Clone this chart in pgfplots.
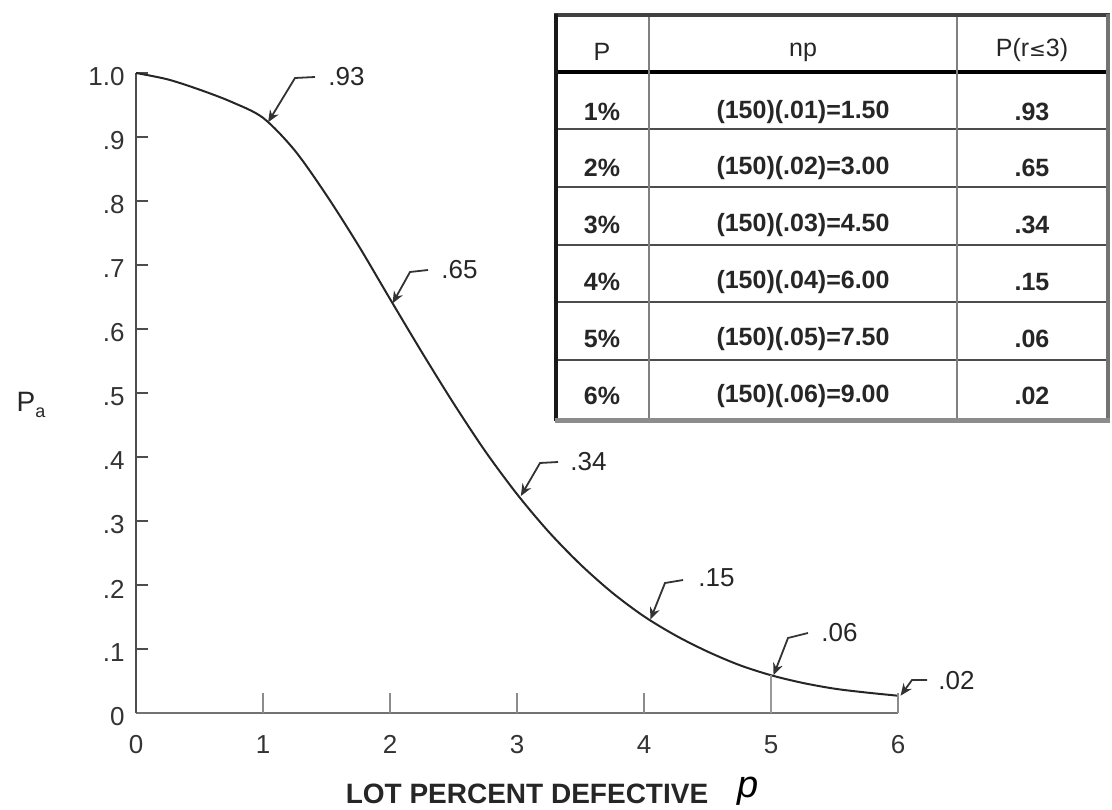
\documentclass[border=0pt]{standalone}
\usepackage{fontspec}
\setmainfont{Liberation Sans}
\newfontfamily\dejavu{DejaVu Sans}
\usepackage{pgfplots}
\pgfplotsset{compat=1.18}
\usetikzlibrary{arrows.meta}

% OC curve
\pgfplotstableread{
p     Pa
0.00  1.000
0.25  0.990
0.50  0.974
0.75  0.955
1.00  0.930
1.25  0.879
1.50  0.809
1.75  0.731
2.00  0.647
2.25  0.564
2.50  0.484
2.75  0.409
3.00  0.342
3.25  0.283
3.50  0.232
3.75  0.188
4.00  0.151
4.25  0.121
4.50  0.096
4.75  0.075
5.00  0.059
5.25  0.047
5.50  0.038
5.75  0.032
6.00  0.027
}\occurve

\newcommand\tfont{\fontsize{13}{15}\selectfont}

\begin{document}
\begin{tikzpicture}
\useasboundingbox (0,0) rectangle (556pt,404.5pt);
\begin{axis}[
    at={(68pt,48pt)}, anchor=south west,
    scale only axis, width=381pt, height=320pt,
    xmin=0, xmax=6, ymin=0, ymax=1,
    clip=false,
    axis x line*=bottom, axis y line*=left,
    x axis line style={-, draw=black!55, line width=1.2pt},
    y axis line style={-, draw=black!70, line width=1pt},
    xtick={0,1,2,3,4,5,6},
    xticklabels={0,1,2,3,4,5,6},
    xtick style={draw=none},
    ytick={0,0.1,0.2,0.3,0.4,0.5,0.6,0.7,0.8,0.9,1},
    yticklabels={0,.1,.2,.3,.4,.5,.6,.7,.8,.9,1.0},
    ytick style={draw=black!70, line width=1pt},
    tick align=inside, major tick length=6pt,
    xticklabel style={font=\tfont, text=black!80, inner sep=0pt, anchor=north, yshift=-11pt},
    yticklabel style={font=\tfont, text=black!80, inner sep=0pt, anchor=east, xshift=-5.5pt, yshift=-2pt},
]
\addplot[smooth, line width=1pt, black!85] table[x=p, y=Pa] {\occurve};
\foreach \i in {1,2,3,4,6} {
    \edef\tmp{\noexpand\draw[black!45, line width=1.2pt] (axis cs:\i,0) -- ++(0,10pt);}\tmp
}
\draw[black!40, line width=1.2pt] (axis cs:5,0) -- (axis cs:5,0.059);
\coordinate (t1) at (axis cs:1.04,0.923);
\coordinate (t2) at (axis cs:2.02,0.640);
\coordinate (t3) at (axis cs:3.03,0.339);
\coordinate (t4) at (axis cs:4.05,0.146);
\coordinate (t5) at (axis cs:5.02,0.059);
\coordinate (t6) at (axis cs:6.02,0.027);
\end{axis}

\begin{scope}[x=0.5pt, y=-0.5pt, shift={(0pt,404.5pt)}]
  % leaders
  \tikzset{lead/.style={{Stealth[length=6pt,width=5pt]}-, line width=0.9pt, black!80}}
  \draw[lead] (t1) -- (295,78) -- (315,77);
  \draw[lead] (t2) -- (410,272) -- (428,270);
  \draw[lead] (t3) -- (540,463) -- (558,462);
  \draw[lead] (t4) -- (665,583) -- (683,580);
  \draw[lead] (t5) -- (788,638) -- (808,633);
  \draw[lead] (t6) -- (912,680) -- (927,680);
  \tikzset{ann/.style={anchor=west, inner sep=0pt, font=\tfont, text=black!85}}
  \node[ann] at (328,77) {.93};
  \node[ann] at (441,270) {.65};
  \node[ann] at (570,462) {.34};
  \node[ann] at (698,578) {.15};
  \node[ann] at (821,633) {.06};
  \node[ann] at (938,681) {.02};

  % axis titles
  \node[font=\fontsize{14}{16}\selectfont, text=black!85] at (31,405) {P\raisebox{-0.45ex}{\fontsize{9}{10}\selectfont a}};
  \node[font=\bfseries\fontsize{14}{16}\selectfont, text=black!85, inner sep=0pt] at (527,794) {LOT PERCENT DEFECTIVE};
  \node[font=\itshape\fontsize{19}{21}\selectfont, inner sep=0pt] at (748,791) {p};

  % table
  \fill[white] (556,15) rectangle (1108,420);
  \foreach \yy in {129,187,245,302,360}
    \draw[black!70, line width=1.2pt] (556,\yy) -- (1108,\yy);
  \draw[black, line width=1.6pt] (556,72) -- (1108,72);
  \draw[black!50, line width=1.4pt] (649,15) -- (649,420);
  \draw[black!50, line width=1.4pt] (957,15) -- (957,420);
  \draw[black!75, line width=2pt] (554,15) -- (1110,15);
  \draw[black!90, line width=2pt] (556,14) -- (556,421);
  \draw[black!55, line width=2pt] (1108,14) -- (1108,421);
  \draw[black!45, line width=2.5pt] (555,421) -- (1110,421);

  \tikzset{hd/.style={font=\fontsize{12.5}{14}\selectfont, text=black!85},
           cl/.style={font=\bfseries\fontsize{12.5}{14}\selectfont, text=black!85}}
  \node[hd] at (602,52) {P};
  \node[hd] at (803,52) {np};
  \node[hd] at (1032,50) {P(r{\dejavu\fontsize{10}{12}\selectfont ≤}3)};

  \node[cl] at (602,112) {1\%};
  \node[cl] at (803,112) {(150)(.01)=1.50};
  \node[cl] at (1032,112) {.93};
  \node[cl] at (602,168) {2\%};
  \node[cl] at (803,168) {(150)(.02)=3.00};
  \node[cl] at (1032,168) {.65};
  \node[cl] at (602,225) {3\%};
  \node[cl] at (803,225) {(150)(.03)=4.50};
  \node[cl] at (1032,225) {.34};
  \node[cl] at (602,282) {4\%};
  \node[cl] at (803,282) {(150)(.04)=6.00};
  \node[cl] at (1032,282) {.15};
  \node[cl] at (602,339) {5\%};
  \node[cl] at (803,339) {(150)(.05)=7.50};
  \node[cl] at (1032,339) {.06};
  \node[cl] at (602,396) {6\%};
  \node[cl] at (803,396) {(150)(.06)=9.00};
  \node[cl] at (1032,396) {.02};
\end{scope}
\end{tikzpicture}
\end{document}
